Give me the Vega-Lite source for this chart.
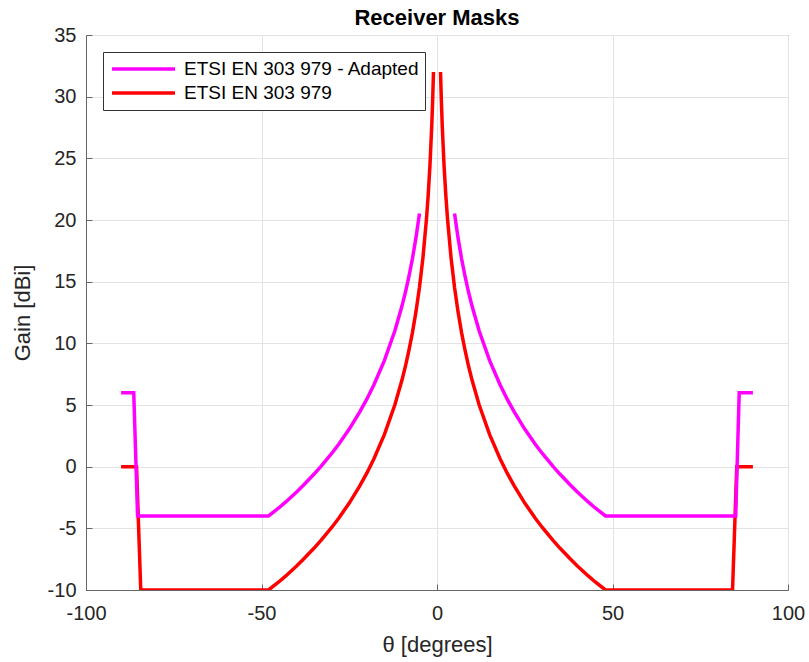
{
  "$schema": "https://vega.github.io/schema/vega-lite/v6.json",
  "autosize": "none",
  "width": 702,
  "height": 555,
  "padding": {"left": 86, "top": 35, "right": 21, "bottom": 72},
  "background": "white",
  "title": {"text": "Receiver Masks", "fontSize": 22, "fontWeight": "bold", "font": "Liberation Sans", "color": "#000000", "offset": -5},
  "config": {
    "font": "Liberation Sans",
    "view": {"stroke": "#666666", "strokeWidth": 1},
    "axis": {
      "labelFont": "Liberation Sans", "labelFontSize": 20, "labelColor": "#262626", "labelFlush": false,
      "labelExpr": "replace(datum.label, '−', '-')",
      "titleFont": "Liberation Sans", "titleFontSize": 22, "titleColor": "#262626", "titleFontWeight": "normal",
      "gridColor": "#e3e3e3", "gridWidth": 1, "domainColor": "#666666", "tickColor": "#666666",
      "tickSize": -6
    },
    "legend": {
      "labelFont": "Liberation Sans", "labelFontSize": 19, "labelColor": "#000000", "labelLimit": 500,
      "strokeColor": "#333333", "fillColor": "white", "padding": 5,
      "symbolType": "stroke", "symbolStrokeWidth": 3.5, "symbolSize": 3969, "symbolOffset": 2,
      "labelOffset": 7, "rowPadding": 0, "clipHeight": 24
    }
  },
  "data": {"values": [
    {"s": "ETSI EN 303 979", "g": "L", "t": -90, "v": 0},
    {"s": "ETSI EN 303 979", "g": "L", "t": -85.6, "v": 0},
    {"s": "ETSI EN 303 979", "g": "L", "t": -84.4, "v": -10},
    {"s": "ETSI EN 303 979", "g": "L", "t": -48, "v": -10},
    {"s": "ETSI EN 303 979", "g": "L", "t": -45, "v": -9.33},
    {"s": "ETSI EN 303 979", "g": "L", "t": -43, "v": -8.84},
    {"s": "ETSI EN 303 979", "g": "L", "t": -40, "v": -8.05},
    {"s": "ETSI EN 303 979", "g": "L", "t": -38, "v": -7.49},
    {"s": "ETSI EN 303 979", "g": "L", "t": -35, "v": -6.6},
    {"s": "ETSI EN 303 979", "g": "L", "t": -33, "v": -5.96},
    {"s": "ETSI EN 303 979", "g": "L", "t": -30, "v": -4.93},
    {"s": "ETSI EN 303 979", "g": "L", "t": -28, "v": -4.18},
    {"s": "ETSI EN 303 979", "g": "L", "t": -25, "v": -2.95},
    {"s": "ETSI EN 303 979", "g": "L", "t": -22, "v": -1.56},
    {"s": "ETSI EN 303 979", "g": "L", "t": -20, "v": -0.53},
    {"s": "ETSI EN 303 979", "g": "L", "t": -18, "v": 0.62},
    {"s": "ETSI EN 303 979", "g": "L", "t": -15, "v": 2.6},
    {"s": "ETSI EN 303 979", "g": "L", "t": -12, "v": 5.02},
    {"s": "ETSI EN 303 979", "g": "L", "t": -10, "v": 7},
    {"s": "ETSI EN 303 979", "g": "L", "t": -9, "v": 8.14},
    {"s": "ETSI EN 303 979", "g": "L", "t": -8, "v": 9.42},
    {"s": "ETSI EN 303 979", "g": "L", "t": -7, "v": 10.87},
    {"s": "ETSI EN 303 979", "g": "L", "t": -6, "v": 12.55},
    {"s": "ETSI EN 303 979", "g": "L", "t": -5, "v": 14.53},
    {"s": "ETSI EN 303 979", "g": "L", "t": -4, "v": 16.95},
    {"s": "ETSI EN 303 979", "g": "L", "t": -3, "v": 20.07},
    {"s": "ETSI EN 303 979", "g": "L", "t": -2.5, "v": 22.05},
    {"s": "ETSI EN 303 979", "g": "L", "t": -2, "v": 24.47},
    {"s": "ETSI EN 303 979", "g": "L", "t": -1.5, "v": 27.6},
    {"s": "ETSI EN 303 979", "g": "L", "t": -1.25, "v": 29.58},
    {"s": "ETSI EN 303 979", "g": "L", "t": -1, "v": 32},
    {"s": "ETSI EN 303 979", "g": "R", "t": 1, "v": 32},
    {"s": "ETSI EN 303 979", "g": "R", "t": 1.25, "v": 29.58},
    {"s": "ETSI EN 303 979", "g": "R", "t": 1.5, "v": 27.6},
    {"s": "ETSI EN 303 979", "g": "R", "t": 2, "v": 24.47},
    {"s": "ETSI EN 303 979", "g": "R", "t": 2.5, "v": 22.05},
    {"s": "ETSI EN 303 979", "g": "R", "t": 3, "v": 20.07},
    {"s": "ETSI EN 303 979", "g": "R", "t": 4, "v": 16.95},
    {"s": "ETSI EN 303 979", "g": "R", "t": 5, "v": 14.53},
    {"s": "ETSI EN 303 979", "g": "R", "t": 6, "v": 12.55},
    {"s": "ETSI EN 303 979", "g": "R", "t": 7, "v": 10.87},
    {"s": "ETSI EN 303 979", "g": "R", "t": 8, "v": 9.42},
    {"s": "ETSI EN 303 979", "g": "R", "t": 9, "v": 8.14},
    {"s": "ETSI EN 303 979", "g": "R", "t": 10, "v": 7},
    {"s": "ETSI EN 303 979", "g": "R", "t": 12, "v": 5.02},
    {"s": "ETSI EN 303 979", "g": "R", "t": 15, "v": 2.6},
    {"s": "ETSI EN 303 979", "g": "R", "t": 18, "v": 0.62},
    {"s": "ETSI EN 303 979", "g": "R", "t": 20, "v": -0.53},
    {"s": "ETSI EN 303 979", "g": "R", "t": 22, "v": -1.56},
    {"s": "ETSI EN 303 979", "g": "R", "t": 25, "v": -2.95},
    {"s": "ETSI EN 303 979", "g": "R", "t": 28, "v": -4.18},
    {"s": "ETSI EN 303 979", "g": "R", "t": 30, "v": -4.93},
    {"s": "ETSI EN 303 979", "g": "R", "t": 33, "v": -5.96},
    {"s": "ETSI EN 303 979", "g": "R", "t": 35, "v": -6.6},
    {"s": "ETSI EN 303 979", "g": "R", "t": 38, "v": -7.49},
    {"s": "ETSI EN 303 979", "g": "R", "t": 40, "v": -8.05},
    {"s": "ETSI EN 303 979", "g": "R", "t": 43, "v": -8.84},
    {"s": "ETSI EN 303 979", "g": "R", "t": 45, "v": -9.33},
    {"s": "ETSI EN 303 979", "g": "R", "t": 48, "v": -10},
    {"s": "ETSI EN 303 979", "g": "R", "t": 84.2, "v": -10},
    {"s": "ETSI EN 303 979", "g": "R", "t": 85.4, "v": 0},
    {"s": "ETSI EN 303 979", "g": "R", "t": 90, "v": 0},

    {"s": "ETSI EN 303 979 - Adapted", "g": "L", "t": -90, "v": 6},
    {"s": "ETSI EN 303 979 - Adapted", "g": "L", "t": -86.4, "v": 6},
    {"s": "ETSI EN 303 979 - Adapted", "g": "L", "t": -85.3, "v": -4},
    {"s": "ETSI EN 303 979 - Adapted", "g": "L", "t": -48, "v": -4},
    {"s": "ETSI EN 303 979 - Adapted", "g": "L", "t": -45, "v": -3.33},
    {"s": "ETSI EN 303 979 - Adapted", "g": "L", "t": -43, "v": -2.84},
    {"s": "ETSI EN 303 979 - Adapted", "g": "L", "t": -40, "v": -2.05},
    {"s": "ETSI EN 303 979 - Adapted", "g": "L", "t": -38, "v": -1.49},
    {"s": "ETSI EN 303 979 - Adapted", "g": "L", "t": -35, "v": -0.6},
    {"s": "ETSI EN 303 979 - Adapted", "g": "L", "t": -33, "v": 0.04},
    {"s": "ETSI EN 303 979 - Adapted", "g": "L", "t": -30, "v": 1.07},
    {"s": "ETSI EN 303 979 - Adapted", "g": "L", "t": -28, "v": 1.82},
    {"s": "ETSI EN 303 979 - Adapted", "g": "L", "t": -25, "v": 3.05},
    {"s": "ETSI EN 303 979 - Adapted", "g": "L", "t": -22, "v": 4.44},
    {"s": "ETSI EN 303 979 - Adapted", "g": "L", "t": -20, "v": 5.47},
    {"s": "ETSI EN 303 979 - Adapted", "g": "L", "t": -18, "v": 6.62},
    {"s": "ETSI EN 303 979 - Adapted", "g": "L", "t": -15, "v": 8.6},
    {"s": "ETSI EN 303 979 - Adapted", "g": "L", "t": -12, "v": 11.02},
    {"s": "ETSI EN 303 979 - Adapted", "g": "L", "t": -10, "v": 13},
    {"s": "ETSI EN 303 979 - Adapted", "g": "L", "t": -9, "v": 14.14},
    {"s": "ETSI EN 303 979 - Adapted", "g": "L", "t": -8, "v": 15.42},
    {"s": "ETSI EN 303 979 - Adapted", "g": "L", "t": -7, "v": 16.87},
    {"s": "ETSI EN 303 979 - Adapted", "g": "L", "t": -6, "v": 18.55},
    {"s": "ETSI EN 303 979 - Adapted", "g": "L", "t": -5, "v": 20.53},
    {"s": "ETSI EN 303 979 - Adapted", "g": "R", "t": 5, "v": 20.53},
    {"s": "ETSI EN 303 979 - Adapted", "g": "R", "t": 6, "v": 18.55},
    {"s": "ETSI EN 303 979 - Adapted", "g": "R", "t": 7, "v": 16.87},
    {"s": "ETSI EN 303 979 - Adapted", "g": "R", "t": 8, "v": 15.42},
    {"s": "ETSI EN 303 979 - Adapted", "g": "R", "t": 9, "v": 14.14},
    {"s": "ETSI EN 303 979 - Adapted", "g": "R", "t": 10, "v": 13},
    {"s": "ETSI EN 303 979 - Adapted", "g": "R", "t": 12, "v": 11.02},
    {"s": "ETSI EN 303 979 - Adapted", "g": "R", "t": 15, "v": 8.6},
    {"s": "ETSI EN 303 979 - Adapted", "g": "R", "t": 18, "v": 6.62},
    {"s": "ETSI EN 303 979 - Adapted", "g": "R", "t": 20, "v": 5.47},
    {"s": "ETSI EN 303 979 - Adapted", "g": "R", "t": 22, "v": 4.44},
    {"s": "ETSI EN 303 979 - Adapted", "g": "R", "t": 25, "v": 3.05},
    {"s": "ETSI EN 303 979 - Adapted", "g": "R", "t": 28, "v": 1.82},
    {"s": "ETSI EN 303 979 - Adapted", "g": "R", "t": 30, "v": 1.07},
    {"s": "ETSI EN 303 979 - Adapted", "g": "R", "t": 33, "v": 0.04},
    {"s": "ETSI EN 303 979 - Adapted", "g": "R", "t": 35, "v": -0.6},
    {"s": "ETSI EN 303 979 - Adapted", "g": "R", "t": 38, "v": -1.49},
    {"s": "ETSI EN 303 979 - Adapted", "g": "R", "t": 40, "v": -2.05},
    {"s": "ETSI EN 303 979 - Adapted", "g": "R", "t": 43, "v": -2.84},
    {"s": "ETSI EN 303 979 - Adapted", "g": "R", "t": 45, "v": -3.33},
    {"s": "ETSI EN 303 979 - Adapted", "g": "R", "t": 48, "v": -4},
    {"s": "ETSI EN 303 979 - Adapted", "g": "R", "t": 85.1, "v": -4},
    {"s": "ETSI EN 303 979 - Adapted", "g": "R", "t": 86.1, "v": 6},
    {"s": "ETSI EN 303 979 - Adapted", "g": "R", "t": 90, "v": 6}
  ]},
  "mark": {"type": "line", "strokeWidth": 3.5, "clip": true},
  "encoding": {
    "x": {"field": "t", "type": "quantitative", "title": "θ [degrees]",
      "scale": {"domain": [-100, 100], "nice": false},
      "axis": {"values": [-100, -50, 0, 50, 100], "labelPadding": 19, "titlePadding": 11}},
    "y": {"field": "v", "type": "quantitative", "title": "Gain [dBi]",
      "scale": {"domain": [-10, 35], "nice": false, "zero": false},
      "axis": {"values": [-10, -5, 0, 5, 10, 15, 20, 25, 30, 35], "labelPadding": 16, "titlePadding": 13}},
    "color": {"field": "s", "type": "nominal", "title": null,
      "scale": {"domain": ["ETSI EN 303 979 - Adapted", "ETSI EN 303 979"], "range": ["#FF00FF", "#FF0000"]},
      "legend": {"orient": "top-left", "offset": 17}},
    "detail": {"field": "g", "type": "nominal"},
    "order": {"field": "t", "type": "quantitative"}
  }
}
